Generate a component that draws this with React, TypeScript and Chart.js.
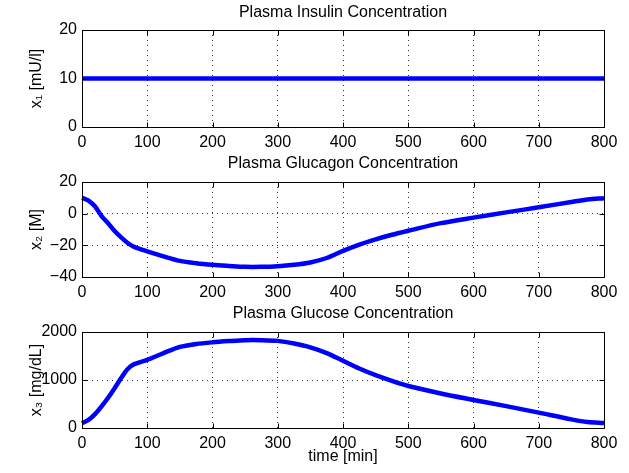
import React, { useEffect, useRef } from "react";
import { Chart, registerables } from "chart.js";

Chart.register(...registerables);

const timeMin = [0, 10, 20, 30, 40, 50, 60, 70, 80, 100, 125, 150, 175, 200, 225, 250, 275, 300, 325, 350, 375, 400, 425, 450, 475, 500, 550, 600, 650, 700, 750, 775, 800];
const insulin = [10, 10, 10, 10, 10, 10, 10, 10, 10, 10, 10, 10, 10, 10, 10, 10, 10, 10, 10, 10, 10, 10, 10, 10, 10, 10, 10, 10, 10, 10, 10, 10, 10];
const glucagon = [10, 8.3, 4.5, -1.5, -6, -11, -15, -18.5, -21, -23.8, -27, -29.8, -31.3, -32.3, -33, -33.6, -33.6, -33.2, -32.3, -30.8, -28, -23.5, -19.5, -16.2, -13.3, -10.8, -6, -2.5, 0.8, 4, 7.4, 9, 9.7];
const glucose = [100, 170, 290, 450, 630, 830, 1040, 1230, 1330, 1420, 1560, 1690, 1750, 1785, 1810, 1830, 1830, 1815, 1760, 1680, 1560, 1400, 1240, 1100, 980, 875, 720, 585, 455, 320, 180, 125, 105];

const xTicks = [0, 100, 200, 300, 400, 500, 600, 700, 800];
const yTicksInsulin = [0, 10, 20];
const yTicksGlucagon = [-40, -20, 0, 20];
const yTicksGlucose = [0, 1000, 2000];

const titles = ["Plasma Insulin Concentration", "Plasma Glucagon Concentration", "Plasma Glucose Concentration"];
const yLabels = ["x\u2081 [mU/l]", "x\u2082 [M]", "x\u2083 [mg/dL]"];
const xLabel = "time [min]";

const FONT = "'Liberation Sans', Arial, Helvetica, sans-serif";

const boxPlugin = {
  id: "matlabBox",
  afterDraw(chart: any) {
    const { ctx, chartArea: a, scales } = chart;
    ctx.save();
    ctx.strokeStyle = "#000";
    ctx.lineWidth = 1;
    ctx.beginPath();
    const L = Math.round(a.left) + 0.5, R = Math.round(a.right) + 0.5, T = Math.round(a.top) + 0.5, B = Math.round(a.bottom) + 0.5;
    ctx.rect(L, T, R - L, B - T);
    const tl = 5;
    for (const v of xTicks) {
      const x = Math.round(scales.x.getPixelForValue(v)) + 0.5;
      ctx.moveTo(x, B); ctx.lineTo(x, B - tl);
      ctx.moveTo(x, T); ctx.lineTo(x, T + tl);
    }
    for (const t of scales.y.ticks) {
      const y = Math.round(scales.y.getPixelForValue(t.value)) + 0.5;
      ctx.moveTo(L, y); ctx.lineTo(L + tl, y);
      ctx.moveTo(R, y); ctx.lineTo(R - tl, y);
    }
    ctx.stroke();
    ctx.restore();
  },
};

type Spec = {
  values: number[];
  yTicks: number[];
  title: string;
  yLabel: string;
  top: number;
  height: number;
  areaTop: number;
  areaBottom: number;
  titleCenter: number;
  showXLabel: boolean;
};

function SubPlot({ spec }: { spec: Spec }) {
  const ref = useRef<HTMLCanvasElement>(null);
  useEffect(() => {
    if (!ref.current) return;
    const fontSize = 16;
    const lh = 19;
    const titlePadTop = spec.titleCenter - lh / 2;
    const titlePadBottom = spec.areaTop - titlePadTop - lh;
    const xAxisHeight = spec.height - spec.areaBottom;
    const yMin = spec.yTicks[0];
    const yMax = spec.yTicks[spec.yTicks.length - 1];
    const chart = new Chart(ref.current, {
      type: "line",
      data: {
        datasets: [
          {
            data: timeMin.map((t, i) => ({ x: t, y: spec.values[i] })),
            borderColor: "#0000ff",
            borderWidth: 4.5,
            pointRadius: 0,
            tension: 0.3,
            fill: false,
            clip: 3,
          },
        ],
      },
      options: {
        responsive: false,
        animation: false,
        layout: { padding: { left: 0, right: 25, top: 0, bottom: 0 } },
        plugins: {
          legend: { display: false },
          tooltip: { enabled: false },
          title: {
            display: true,
            text: spec.title,
            fullSize: false,
            color: "#000",
            font: { family: FONT, size: 16, weight: "normal", lineHeight: lh / 16 },
            padding: { top: titlePadTop, bottom: titlePadBottom },
          },
        },
        scales: {
          x: {
            type: "linear",
            min: 0,
            max: 800,
            afterFit(s: any) { s.height = xAxisHeight; },
            afterBuildTicks(s: any) { s.ticks = xTicks.map((v) => ({ value: v })); },
            grid: { color: "#333", lineWidth: 1, drawTicks: false },
            border: { display: false, dash: [1, 4] },
            ticks: { color: "#000", padding: 6, font: { family: FONT, size: fontSize }, maxRotation: 0 },
            title: {
              display: spec.showXLabel,
              text: xLabel,
              color: "#000",
              font: { family: FONT, size: fontSize, lineHeight: 1.2 },
              padding: { top: 0, bottom: 7 },
            },
          },
          y: {
            type: "linear",
            min: yMin,
            max: yMax,
            afterFit(s: any) { s.width = 82; },
            afterBuildTicks(s: any) { s.ticks = spec.yTicks.map((v) => ({ value: v })); },
            grid: { color: "#333", lineWidth: 1, drawTicks: false },
            border: { display: false, dash: [1, 4] },
            ticks: {
              color: "#000",
              padding: 5,
              font: { family: FONT, size: fontSize },
              callback: (v: any) => (Number(v) < 0 ? "\u2212" + Math.abs(Number(v)) : String(v)),
            },
            title: {
              display: true,
              text: spec.yLabel,
              color: "#000",
              font: { family: FONT, size: fontSize, lineHeight: 1.2 },
              padding: { top: 27, bottom: 0 },
            },
          },
        },
      },
      plugins: [boxPlugin],
    } as any);
    (chart.options.scales as any).x.grid.borderDash = [1, 4];
    (chart.options.scales as any).y.grid.borderDash = [1, 4];
    chart.update();
    return () => chart.destroy();
  }, [spec]);
  return (
    <canvas
      ref={ref}
      width={629}
      height={spec.height}
      style={{ position: "absolute", left: 0, top: spec.top, width: 629, height: spec.height }}
    />
  );
}

const specs: Spec[] = [
  { values: insulin, yTicks: yTicksInsulin, title: titles[0], yLabel: yLabels[0], top: 0, height: 150, areaTop: 30, areaBottom: 127, titleCenter: 13, showXLabel: false },
  { values: glucagon, yTicks: yTicksGlucagon, title: titles[1], yLabel: yLabels[1], top: 150, height: 150, areaTop: 32, areaBottom: 127, titleCenter: 14, showXLabel: false },
  { values: glucose, yTicks: yTicksGlucose, title: titles[2], yLabel: yLabels[2], top: 300, height: 173, areaTop: 32, areaBottom: 128, titleCenter: 14, showXLabel: true },
];

export default function App() {
  return (
    <div style={{ position: "fixed", left: 0, top: 0, width: 629, height: 473, background: "#fff" }}>
      {specs.map((s, i) => (
        <SubPlot key={i} spec={s} />
      ))}
    </div>
  );
}
